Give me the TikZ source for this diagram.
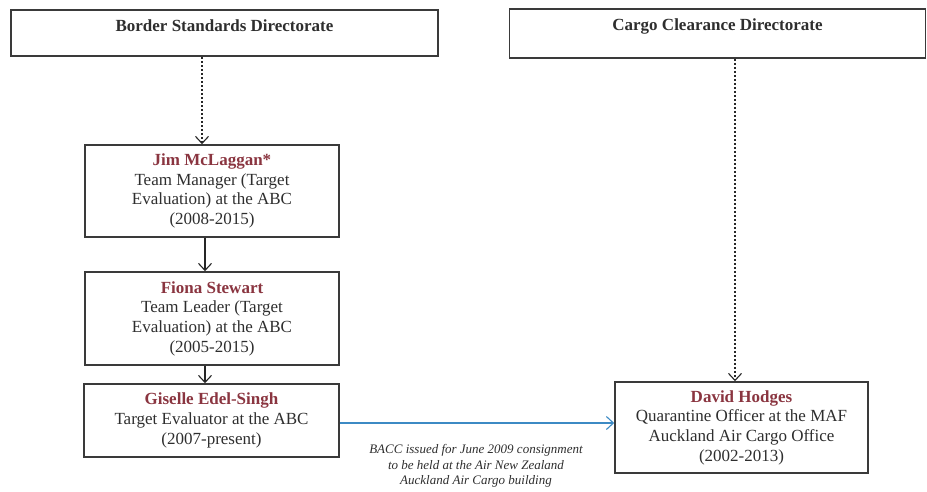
\documentclass[tikz,border=0pt]{standalone}
\usepackage{fontspec}
\setmainfont{Liberation Serif}
\usetikzlibrary{arrows.meta}
\definecolor{namered}{HTML}{8A3540}
\definecolor{bodygray}{HTML}{2E2E2E}
\definecolor{boxline}{HTML}{3A3A3A}
\definecolor{bluearrow}{HTML}{3C8AC4}
\tikzset{
  person/.style={draw=boxline, line width=1.6pt, align=center, text=bodygray,
    font=\fontsize{17}{19.7}\selectfont, inner sep=0pt},
  dirbox/.style={draw=boxline, line width=1.7pt, inner sep=0pt},
  dirlabel/.style={anchor=center, font=\fontsize{17}{19}\selectfont\bfseries, text=bodygray},
  conn/.style={draw=black!85, line width=1.1pt, -{Straight Barb[length=7pt,width=13pt,line width=1.1pt]}},
  dconn/.style={conn, dash pattern=on 2.5pt off 1.5pt},
  bconn/.style={conn, draw=bluearrow, line width=1.5pt},
  note/.style={align=center, font=\fontsize{13}{15.7}\selectfont\itshape, text=bodygray}
}
\newcommand{\pname}[1]{{\bfseries\color{namered}#1}}
\begin{document}
\begin{tikzpicture}[x=1pt,y=-1pt]
\useasboundingbox (0,0) rectangle (927,491);
\node[dirbox, minimum width=427pt, minimum height=46pt,
  label={[dirlabel, yshift=-17pt]north:Border Standards Directorate}] (bsd) at (224.5,33) {};
\node[dirbox, minimum width=416pt, minimum height=49pt,
  label={[dirlabel, yshift=-18pt]north:Cargo Clearance Directorate}] (ccd) at (717.5,33.5) {};
\node[person, minimum width=254pt, minimum height=92pt] (jim) at (212,191)
  {\pname{Jim McLaggan*}\\Team Manager (Target\\Evaluation) at the ABC\\(2008-2015)};
\node[person, minimum width=254pt, minimum height=93pt] (fiona) at (212,318.5)
  {\pname{Fiona Stewart}\\Team Leader (Target\\Evaluation) at the ABC\\(2005-2015)};
\node[person, minimum width=255pt, minimum height=73pt] (giselle) at (211.5,420.5)
  {\pname{Giselle Edel-Singh}\\Target Evaluator at the ABC\\(2007-present)};
\node[person, minimum width=253pt, minimum height=91pt] (david) at (741.5,427.5)
  {\pname{David Hodges}\\Quarantine Officer at the MAF\\Auckland Air Cargo Office\\(2002-2013)};
\node[note] (bacc) at (476,466) {BACC issued for June 2009 consignment\\to be held at the Air New Zealand\\Auckland Air Cargo building};
\draw[dconn] (bsd.south -| 202,0) -- (jim.north -| 202,0);
\draw[conn] (jim.south -| 205,0) -- (fiona.north -| 205,0);
\draw[conn] (fiona.south -| 205,0) -- (giselle.north -| 205,0);
\draw[dconn] (ccd.south -| 735,0) -- (david.north -| 735,0);
\draw[bconn] (giselle.east |- 0,423) -- (david.west |- 0,423);
\end{tikzpicture}
\end{document}
